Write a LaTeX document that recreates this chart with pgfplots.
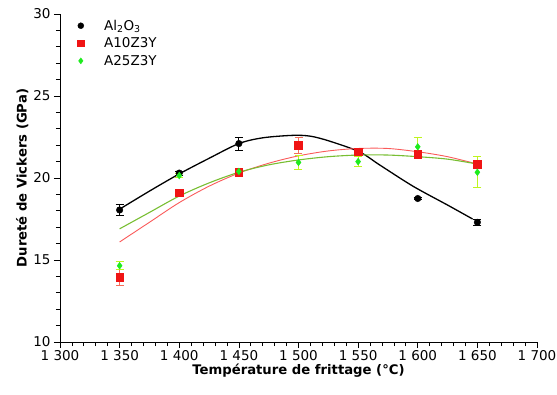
\documentclass[border=0pt]{standalone}
\usepackage{pgfplots}
\pgfplotsset{compat=1.18}
\usepackage{fontspec}
\setmainfont{DejaVu Sans}
\definecolor{ptred}{RGB}{240,20,20}
\definecolor{linered}{RGB}{250,90,90}
\definecolor{ptgreen}{RGB}{30,235,30}
\definecolor{linegreen}{RGB}{120,190,50}
\definecolor{errgreen}{RGB}{190,245,30}
\definecolor{errred}{RGB}{245,110,90}
\begin{document}
\begin{tikzpicture}
\useasboundingbox (-60pt,-52pt) rectangle (497pt,342pt);
\begin{axis}[
  scale only axis, width=477pt, height=328pt,
  xmin=1300, xmax=1700, ymin=10, ymax=30,
  axis x line*=bottom, axis y line*=left,
  axis line style={line width=0.7pt},
  xtick={1300,1350,...,1700},
  xticklabels={1 300,1 350,1 400,1 450,1 500,1 550,1 600,1 650,1 700},
  ytick={10,15,20,25,30},
  minor x tick num=4, minor y tick num=4,
  xtick pos=bottom, ytick pos=left,
  tick align=outside,
  major tick length=6pt, minor tick length=4pt,
  every tick/.style={black, line width=0.7pt},
  /pgf/number format/assume math mode=true,
  ticklabel style={font=\fontsize{13.5}{15}\selectfont},
  xticklabel style={yshift=1pt},
  xlabel={\bfseries Température de frittage (°C)},
  ylabel={\bfseries Dureté de Vickers (GPa)},
  label style={font=\fontsize{13.2}{15}\selectfont},
  xlabel style={yshift=4pt},
  ylabel style={yshift=-2pt},
  legend style={draw=none, fill=none, at={(0.03,0.995)}, anchor=north west,
    font=\fontsize{13.5}{15}\selectfont, row sep=2pt,
    /tikz/every odd column/.append style={column sep=18pt}},
  legend cell align=left,
  clip=false,
]
% fitted curves
\addplot[black, line width=1.3pt, smooth, forget plot] coordinates {
(1350,18.1)(1375,19.2)(1400,20.25)(1425,21.2)(1450,22.1)(1470,22.45)(1495,22.6)(1510,22.55)(1526,22.25)(1551,21.6)(1568,20.8)(1596,19.5)(1625,18.35)(1646,17.5)};
\addplot[linered, line width=0.9pt, smooth, forget plot] coordinates {
(1350,16.1)(1375,17.3)(1400,18.5)(1425,19.5)(1450,20.3)(1475,20.9)(1500,21.35)(1525,21.65)(1550,21.8)(1575,21.8)(1600,21.6)(1625,21.3)(1650,20.85)};
\addplot[linegreen, line width=1.1pt, smooth, forget plot] coordinates {
(1350,16.9)(1375,17.9)(1400,18.9)(1425,19.7)(1450,20.35)(1475,20.8)(1500,21.1)(1525,21.3)(1550,21.4)(1575,21.4)(1600,21.3)(1625,21.15)(1650,20.85)};
% data points
\addplot[only marks, mark=*, mark size=3.3pt, black, forget plot,
  error bars/.cd, y dir=both, y explicit,
  error bar style={black, line width=0.8pt}, error mark options={black, rotate=90, mark size=4pt, line width=0.8pt}]
  table[x=T, y=H, y error=e] {
T H e
1350 18.05 0.33
1400 20.3 0.12
1450 22.1 0.4
1600 18.75 0.08
1650 17.3 0.2
};
\addplot[only marks, mark=square*, mark size=3.8pt, ptred, forget plot,
  error bars/.cd, y dir=both, y explicit,
  error bar style={errred, line width=0.8pt}, error mark options={errred, rotate=90, mark size=4pt, line width=0.8pt}]
  table[x=T, y=H, y error=e] {
T H e
1350 13.95 0.48
1400 19.1 0.15
1450 20.35 0.15
1500 22.0 0.5
1550 21.6 0.1
1600 21.45 0.12
1650 20.85 0.2
};
\addplot[only marks, mark=diamond*, mark size=3.4pt, ptgreen, forget plot,
  error bars/.cd, y dir=both, y explicit,
  error bar style={errgreen, line width=0.8pt}, error mark options={errgreen, rotate=90, mark size=4pt, line width=0.8pt}]
  table[x=T, y=H, y error=e] {
T H e
1350 14.65 0.25
1400 20.15 0.12
1450 20.4 0.12
1500 20.95 0.45
1550 21.0 0.3
1600 21.9 0.58
1650 20.35 0.95
};
\addlegendimage{only marks, mark=*, mark size=3pt, black}
\addlegendentry{Al\textsubscript{2}O\textsubscript{3}}
\addlegendimage{only marks, mark=square*, mark size=3.3pt, ptred}
\addlegendentry{A10Z3Y}
\addlegendimage{only marks, mark=diamond*, mark size=3pt, ptgreen}
\addlegendentry{A25Z3Y}
\end{axis}
\end{tikzpicture}
\end{document}
